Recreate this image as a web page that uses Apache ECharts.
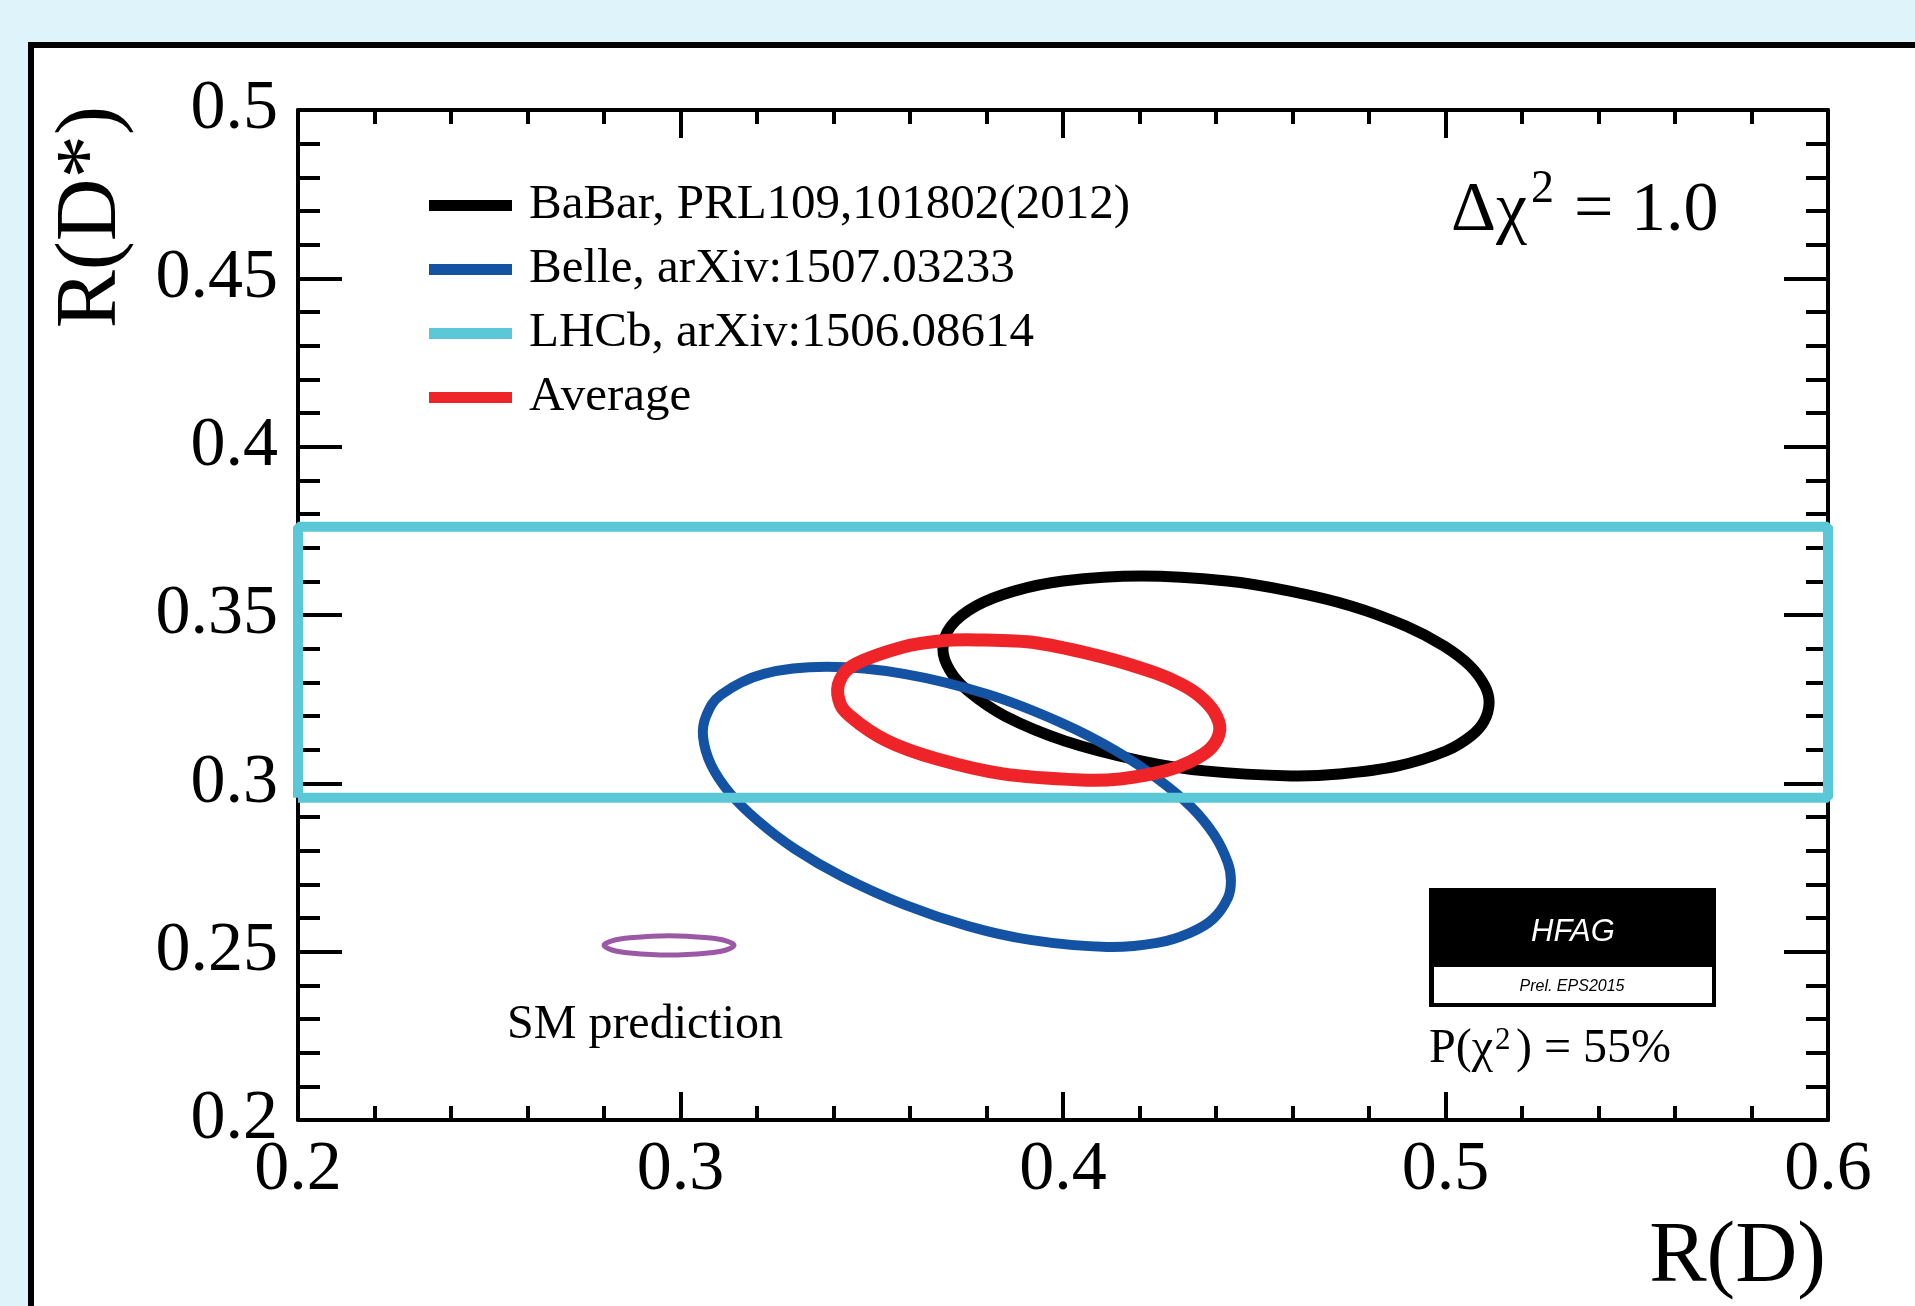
<!DOCTYPE html>
<html><head><meta charset="utf-8">
<script src="https://cdn.jsdelivr.net/npm/echarts@6/dist/echarts.min.js"></script>
<style>
html,body{margin:0;padding:0;width:1915px;height:1306px;overflow:hidden;background:#dff3fa;}
#frame{position:absolute;left:28px;top:42px;width:3000px;height:3000px;border:6px solid #000;background:#fff;}
#chart{position:absolute;left:0;top:0;width:1915px;height:1306px;}
</style></head><body>
<div id="frame"></div><div id="chart"></div>
<script>
// ---- data ----
const xTickLabels = ['0.2', '0.3', '0.4', '0.5', '0.6'];
const yTickLabels = ['0.2', '0.25', '0.3', '0.35', '0.4', '0.45', '0.5'];
const seriesNames = ['BaBar, PRL109,101802(2012)', 'Belle, arXiv:1507.03233', 'LHCb, arXiv:1506.08614', 'Average'];
const rdRange = [0.2, 0.6];          // LHCb band spans full R(D) range
const lhcbRDs = [0.2957, 0.3762];    // LHCb R(D*) band edges
const babar = [[0.4204,0.3616],[0.4429,0.3601],[0.4593,0.3571],[0.4753,0.3527],[0.4897,0.3467],[0.4996,0.3408],[0.5064,0.3349],[0.5103,0.3289],[0.5114,0.3239],[0.5101,0.3185],[0.5067,0.3141],[0.5001,0.3096],[0.4876,0.3052],[0.4724,0.3028],[0.4596,0.3022],[0.4371,0.3037],[0.4204,0.3067],[0.4005,0.3126],[0.3848,0.3200],[0.3752,0.3274],[0.3705,0.3334],[0.3686,0.3399],[0.3707,0.3467],[0.3773,0.3527],[0.3872,0.3571],[0.4000,0.3601]];
const belle = [[0.3383,0.3346],[0.3584,0.3325],[0.3807,0.3263],[0.3997,0.3179],[0.4139,0.3096],[0.4248,0.3013],[0.4335,0.2930],[0.4395,0.2847],[0.4431,0.2764],[0.4439,0.2710],[0.4431,0.2660],[0.4392,0.2597],[0.4332,0.2556],[0.4246,0.2526],[0.4115,0.2514],[0.3914,0.2535],[0.3752,0.2576],[0.3587,0.2639],[0.3425,0.2722],[0.3299,0.2805],[0.3203,0.2888],[0.3129,0.2971],[0.3080,0.3055],[0.3059,0.3138],[0.3067,0.3200],[0.3106,0.3263],[0.3218,0.3325]];
const average = [[0.3459,0.3355],[0.3582,0.3405],[0.3678,0.3423],[0.3775,0.3426],[0.3932,0.3417],[0.4105,0.3375],[0.4241,0.3328],[0.4308,0.3295],[0.4356,0.3260],[0.4395,0.3212],[0.4410,0.3159],[0.4387,0.3105],[0.4332,0.3064],[0.4267,0.3037],[0.4149,0.3013],[0.4047,0.3010],[0.3843,0.3028],[0.3671,0.3072],[0.3540,0.3126],[0.3443,0.3200],[0.3414,0.3248],[0.3417,0.3307]];
const smPred = [[0.2800,0.2519],[0.2821,0.2532],[0.2868,0.2541],[0.2970,0.2547],[0.3072,0.2541],[0.3119,0.2532],[0.3140,0.2519],[0.3119,0.2505],[0.3072,0.2496],[0.2970,0.2490],[0.2868,0.2496],[0.2821,0.2505]];

// ---- build ----
const SERIF = '"Liberation Serif", "Times New Roman", serif';
const SANS = '"Liberation Sans", Arial, sans-serif';
const band = [[rdRange[0], lhcbRDs[0]], [rdRange[1], lhcbRDs[0]], [rdRange[1], lhcbRDs[1]], [rdRange[0], lhcbRDs[1]], [rdRange[0], lhcbRDs[0]]];

function makeAxis(isX, position, showLabel) {
  return {
    type: 'value', position: position,
    min: 0.2, max: isX ? 0.6 : 0.5, interval: isX ? 0.1 : 0.05,
    axisLine: {show: true, onZero: false, lineStyle: {color: '#000', width: 4}},
    splitLine: {show: false}, minorSplitLine: {show: false},
    axisTick: {show: true, inside: true, length: isX ? 28 : 44, lineStyle: {color: '#000', width: 4}},
    minorTick: {show: true, splitNumber: 5, length: isX ? 14 : 22, lineStyle: {color: '#000', width: 4}},
    axisLabel: {
      show: showLabel, showMinLabel: true, showMaxLabel: true, hideOverlap: false,
      margin: isX ? 16 : 20, fontFamily: SERIF, fontSize: 70, color: '#000',
      formatter: v => isX ? xTickLabels[Math.round((v - 0.2) / 0.1)] : yTickLabels[Math.round((v - 0.2) / 0.05)]
    }
  };
}

function txt(text, x, baseline, size, opts) {
  opts = opts || {};
  const fam = opts.family || SERIF;
  const al = opts.align || 'left';
  return {
    type: 'text', x: x, y: baseline - 0.38 * size, rotation: opts.rotation || 0, z: 10,
    style: {text: text, font: (opts.italic ? 'italic ' : '') + size + 'px ' + fam, fill: opts.color || '#000',
      textAlign: al, align: al, textVerticalAlign: 'middle', verticalAlign: 'middle'}
  };
}

// closed smooth contour through the read points, positioned via the axes (api.coord)
function contourSeries(name, pts, color, width) {
  return {
    name: name, type: 'custom', data: pts, encode: {x: 0, y: 1}, clip: false, silent: true,
    color: color, itemStyle: {color: color},
    renderItem: function (params, api) {
      if (params.dataIndex !== 0) return null;
      const P = pts.map(p => api.coord(p));
      const n = P.length;
      let d = 'M' + P[0][0].toFixed(2) + ' ' + P[0][1].toFixed(2);
      for (let i = 0; i < n; i++) {
        const p0 = P[(i - 1 + n) % n], p1 = P[i], p2 = P[(i + 1) % n], p3 = P[(i + 2) % n];
        const c1x = p1[0] + (p2[0] - p0[0]) / 6, c1y = p1[1] + (p2[1] - p0[1]) / 6;
        const c2x = p2[0] - (p3[0] - p1[0]) / 6, c2y = p2[1] - (p3[1] - p1[1]) / 6;
        d += ' C' + c1x.toFixed(2) + ' ' + c1y.toFixed(2) + ' ' + c2x.toFixed(2) + ' ' + c2y.toFixed(2) + ' ' + p2[0].toFixed(2) + ' ' + p2[1].toFixed(2);
      }
      d += ' Z';
      return {type: 'path', shape: {pathData: d}, style: {fill: 'none', stroke: color, lineWidth: width, lineJoin: 'round'}};
    }
  };
}

const chart = echarts.init(document.getElementById('chart'), null, {renderer: 'canvas'});
chart.setOption({
  animation: false,
  backgroundColor: 'transparent',
  grid: {left: 298, right: 87, top: 110, bottom: 186, outerBoundsMode: 'none', containLabel: false},
  xAxis: [makeAxis(true, 'bottom', true), makeAxis(true, 'top', false)],
  yAxis: [makeAxis(false, 'left', true), makeAxis(false, 'right', false)],
  legend: {
    orient: 'vertical', left: 429, top: 181, padding: 0, itemGap: 15,
    itemWidth: 83, itemHeight: 11, icon: 'rect', selectedMode: false,
    data: seriesNames,
    textStyle: {fontFamily: SERIF, fontSize: 49, color: '#000', padding: [0, 0, 0, 12]}
  },
  series: [
    {name: seriesNames[2], type: 'line', data: band, symbol: 'none', showSymbol: false, clip: false, silent: true,
     color: '#5ac8d6', itemStyle: {color: '#5ac8d6'}, lineStyle: {color: '#5ac8d6', width: 10}},
    contourSeries(seriesNames[0], babar, '#000000', 11),
    contourSeries(seriesNames[1], belle, '#1453a3', 10),
    contourSeries(seriesNames[3], average, '#ee2429', 13),
    contourSeries('SM prediction', smPred, '#9b58a5', 5)
  ],
  graphic: [
    txt('R(D)', 1826, 1291, 86, {align: 'right'}),
    txt('R(D*)', 92, 139, 87, {align: 'right', rotation: Math.PI / 2}),
    txt('Δχ', 1451, 238, 70),
    txt('2', 1531, 207, 46),
    txt('= 1.0', 1574, 238, 70),
    txt('SM prediction', 507, 1044, 48),
    txt('P(χ', 1429, 1068, 48),
    txt('2', 1495, 1053, 31),
    txt(') = 55%', 1516, 1068, 48),
    {type: 'rect', z: 9, shape: {x: 1429, y: 888, width: 287, height: 119}, style: {fill: '#000'}},
    {type: 'rect', z: 9, shape: {x: 1434, y: 967, width: 278, height: 36}, style: {fill: '#fff'}},
    {type: 'text', z: 10, x: 1573, y: 932, style: {text: 'HFAG', font: 'italic 31px ' + SANS, fill: '#fff', textAlign: 'center', align: 'center', textVerticalAlign: 'middle', verticalAlign: 'middle'}},
    {type: 'text', z: 10, x: 1572, y: 987, style: {text: 'Prel. EPS2015', font: 'italic 16px ' + SANS, fill: '#000', textAlign: 'center', align: 'center', textVerticalAlign: 'middle', verticalAlign: 'middle'}}
  ]
});
</script>
</body></html>
